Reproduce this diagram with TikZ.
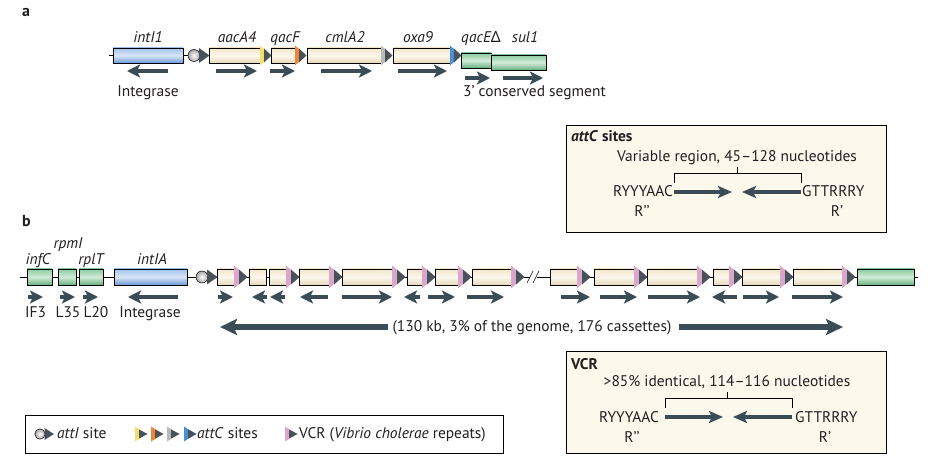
\documentclass[tikz,border=0pt]{standalone}
\usepackage{fontspec}
\setmainfont{PT Sans}
\newfontfamily\notof{Noto Sans}
\usetikzlibrary{arrows.meta}
\definecolor{arrc}{HTML}{3A4D57}
\definecolor{tridk}{HTML}{4A5259}
\definecolor{creamT}{HTML}{F2E5C9}
\definecolor{creamM}{HTML}{FCF8EE}
\definecolor{creamB}{HTML}{E8D8B8}
\definecolor{blueT}{HTML}{A3C3EC}
\definecolor{blueM}{HTML}{D8E6F7}
\definecolor{blueB}{HTML}{6C9AD6}
\definecolor{greenT}{HTML}{8CC99E}
\definecolor{greenM}{HTML}{D3ECDA}
\definecolor{greenB}{HTML}{66B07E}
\definecolor{cyel}{HTML}{F4DE6E}
\definecolor{cora}{HTML}{EE8636}
\definecolor{cgry}{HTML}{B9B9B9}
\definecolor{cblu}{HTML}{4A8FD2}
\definecolor{cpnk}{HTML}{D9A7CB}
\definecolor{boxfill}{HTML}{FDF8EC}
\definecolor{txt}{HTML}{231F20}
\newcommand{\cas}[4]{\path[#4] (#1,#3-7.5) rectangle (#2,#3+7.5);}
\newcommand{\casb}[3]{\path[#3] (#1,269) rectangle (#2,285);}
\newcommand{\atta}[2]{%
  \fill[#2] (#1-1,45.5) -- (#1+10,55.5) -- (#1-1,65.5) -- cycle;
  \fill[tridk] (#1+3,48.5) -- (#1+10.5,55.5) -- (#1+3,62.5) -- cycle;}
\newcommand{\attb}[1]{%
  \fill[cpnk] (#1-1,265.5) -- (#1+12,277) -- (#1-1,288.5) -- cycle;
  \fill[tridk] (#1+4,269.5) -- (#1+12.5,277) -- (#1+4,284.5) -- cycle;}
\newcommand{\legtri}[2]{%
  \fill[#2] (#1,426.5) -- (#1+12,434) -- (#1,441.5) -- cycle;
  \fill[tridk] (#1+4,429.5) -- (#1+12.5,434) -- (#1+4,438.5) -- cycle;}
\begin{document}
\begin{tikzpicture}[x=1bp,y=-1bp,
  every node/.style={inner sep=0pt, text=txt},
  cream/.style={draw=black, line width=0.6bp, top color=creamT, bottom color=creamB, middle color=creamM},
  bluebox/.style={draw=black, line width=0.6bp, top color=blueT, bottom color=blueB, middle color=blueM},
  greenbox/.style={draw=black, line width=0.6bp, top color=greenT, bottom color=greenB, middle color=greenM},
  gene/.style={font=\fontsize{15.5}{17}\selectfont\itshape, anchor=base},
  lab/.style={font=\fontsize{15.5}{17}\selectfont, anchor=base},
  garr/.style={draw=arrc, line width=4.6bp, -{Stealth[length=13bp,width=13bp,inset=3bp]}},
  midarr/.style={draw=arrc, line width=4.8bp, -{Stealth[length=14bp,width=12bp,inset=3bp]}},
  bigarr/.style={draw=arrc, line width=6.5bp, -{Stealth[length=17bp,width=16bp,inset=3.5bp]}},
  infobox/.style={draw=black, line width=0.9bp, fill=boxfill},
  thin/.style={draw=black, line width=0.6bp},
  attI/.style={draw=black, line width=0.5bp, inner color=white, outer color=black!35}
]
\useasboundingbox (0,0) rectangle (943,466);
\fill[white] (0,0) rectangle (943,466);

% ---------------- panel a
\node[font=\fontsize{16}{18}\selectfont\bfseries, anchor=base west] (la) at (22,17) {a};
\draw[thin] (109,55.5) -- (209,55.5);
\path[bluebox] (113,48) rectangle (183,63);
\shade[attI] (194,55.5) circle (6);
\fill[tridk] (199,48) -- (209.5,55.5) -- (199,63) -- cycle;
\cas{209}{261}{55.5}{cream}
\cas{271}{296}{55.5}{cream}
\cas{307}{382}{55.5}{cream}
\cas{393}{451}{55.5}{cream}
\path[greenbox] (461,53) rectangle (491,68);
\path[greenbox] (491,55) rectangle (546,70);
\atta{261}{cyel}
\atta{296}{cora}
\atta{382}{cgry}
\atta{451}{cblu}

\node[gene] (gintI1) at (148,43) {intI1};
\node[gene] (gaac) at (237,43) {aacA4};
\node[gene] (gqacF) at (285,43) {qacF};
\node[gene] (gcml) at (345,43) {cmlA2};
\node[gene] (goxa) at (418,43) {oxa9};
\node[gene] (gqacE) at (481,43) {qacE{\upshape\notof Δ}};
\node[gene] (gsul) at (525,43) {sul1};

\draw[garr] (168,71) -- (127,71);
\draw[garr] (216,71) -- (257,71);
\draw[garr] (270,71) -- (295,71);
\draw[garr] (321,71) -- (372,71);
\draw[garr] (398,71) -- (447,71);
\draw[garr] (465,78) -- (490,78);
\draw[garr] (503,78) -- (543,78);

\node[lab] (tint) at (148,97) {Integrase};
\node[lab, anchor=base west] (tcons) at (463,97) {3’ conserved segment};

% ---------------- attC box
\path[infobox] (566,125) rectangle (886,232);
\node[lab, anchor=base west, font=\fontsize{15.5}{17}\selectfont\bfseries] (tattc) at (571,142) {\textit{attC} sites};
\node[lab] (tvar) at (737,162) {Variable region, 45–128 nucleotides};
\draw[thin] (674,183) -- (674,173) -- (801,173) -- (801,183);
\draw[thin] (737,173) -- (737,167);
\node[lab, anchor=base east] (ra) at (673,197) {RYYYAAC};
\node[lab, anchor=base west] (ga) at (802,197) {GTTRRRY};
\draw[midarr] (674,192) -- (732,192);
\draw[midarr] (801,192) -- (742,192);
\node[lab] (rpa) at (642,217) {R’’};
\node[lab] (rsa) at (837,217) {R’};

% ---------------- panel b
\node[font=\fontsize{16}{18}\selectfont\bfseries, anchor=base west] (lb) at (22,227) {b};
\draw[thin] (20,277) -- (918,277);
\casb{27}{52}{greenbox}
\casb{58}{76}{greenbox}
\casb{79}{103}{greenbox}
\casb{114}{187}{bluebox}
\shade[attI] (202,277) circle (6);
\fill[tridk] (207,269.5) -- (217.5,277) -- (207,284.5) -- cycle;
\casb{217}{235}{cream}
\casb{249}{266}{cream}
\casb{269}{287}{cream}
\casb{299}{330}{cream}
\casb{342}{393}{cream}
\casb{407}{423}{cream}
\casb{435}{459}{cream}
\casb{472}{512}{cream}
\casb{550}{578}{cream}
\casb{594}{635}{cream}
\casb{647}{698}{cream}
\casb{713}{730}{cream}
\casb{742}{781}{cream}
\casb{793}{843}{cream}
\casb{857}{914}{greenbox}
\attb{235}\attb{287}\attb{330}\attb{393}\attb{423}\attb{459}\attb{512}
\attb{578}\attb{635}\attb{698}\attb{730}\attb{781}\attb{843}
% break marks
\fill[white] (530,274) rectangle (537,280);
\draw[thin] (527,283) -- (533,271);
\draw[thin] (533,283) -- (539,271);

\node[gene] (ginf) at (38,265) {infC};
\node[gene] (grpm) at (68,249) {rpmI};
\node[gene] (grpl) at (91,265) {rplT};
\node[gene] (gintA) at (152,265) {intIA};

\draw[garr] (28,297) -- (43,297);
\draw[garr] (60,297) -- (75,297);
\draw[garr] (83,297) -- (98,297);
\draw[garr] (178,297) -- (128,297);
\draw[garr] (218,297) -- (233,297);
\draw[garr] (267,297) -- (252,297);
\draw[garr] (285,297) -- (270,297);
\draw[garr] (328,297) -- (300,297);
\draw[garr] (342,297) -- (392,297);
\draw[garr] (420,297) -- (404,297);
\draw[garr] (428,297) -- (455,297);
\draw[garr] (467,297) -- (504,297);
\draw[garr] (561,297) -- (590,297);
\draw[garr] (600,297) -- (637,297);
\draw[garr] (648,297) -- (700,297);
\draw[garr] (737,297) -- (712,297);
\draw[garr] (743,297) -- (779,297);
\draw[garr] (792,297) -- (843,297);

\node[lab] (tif3) at (35.5,318) {IF3};
\node[lab] (tl35) at (68,318) {L35};
\node[lab] (tl20) at (96,318) {L20};
\node[lab] (tintb) at (150,318) {Integrase};

\node[lab] (tlong) at (532,332) {(130 kb, 3\% of the genome, 176 cassettes)};
\draw[bigarr] (388,327) -- (220,327);
\draw[bigarr] (679,327) -- (843,327);

% ---------------- VCR box
\path[infobox] (566,351) rectangle (886,453);
\node[lab, anchor=base west, font=\fontsize{15.5}{17}\selectfont\bfseries] (tvcr) at (571,370) {VCR};
\node[lab] (tid) at (727,387) {>85\% identical, 114–116 nucleotides};
\draw[thin] (665,408) -- (665,398) -- (792,398) -- (792,408);
\draw[thin] (727,398) -- (727,392);
\node[lab, anchor=base east] (rb) at (659,422) {RYYYAAC};
\node[lab, anchor=base west] (gb) at (795,422) {GTTRRRY};
\draw[midarr] (665,417) -- (723,417);
\draw[midarr] (792,417) -- (733,417);
\node[lab] (rpb) at (632,442) {R’’};
\node[lab] (rsb) at (825,442) {R’};

% ---------------- legend
\draw[draw=black, line width=0.8bp, fill=white] (25,415) rectangle (503,453);
\shade[attI] (40,434) circle (5.2);
\fill[tridk] (44.5,428) -- (54,434) -- (44.5,440) -- cycle;
\node[lab, anchor=base west] (lg1) at (57,438) {\textit{attI} site};
\legtri{135}{cyel}
\legtri{151}{cora}
\legtri{167}{cgry}
\legtri{184}{cblu}
\node[lab, anchor=base west] (lg2) at (197,438) {\textit{attC} sites};
\legtri{285}{cpnk}
\node[lab, anchor=base west] (lg3) at (299,438) {VCR (\textit{Vibrio cholerae} repeats)};
\end{tikzpicture}
\end{document}
